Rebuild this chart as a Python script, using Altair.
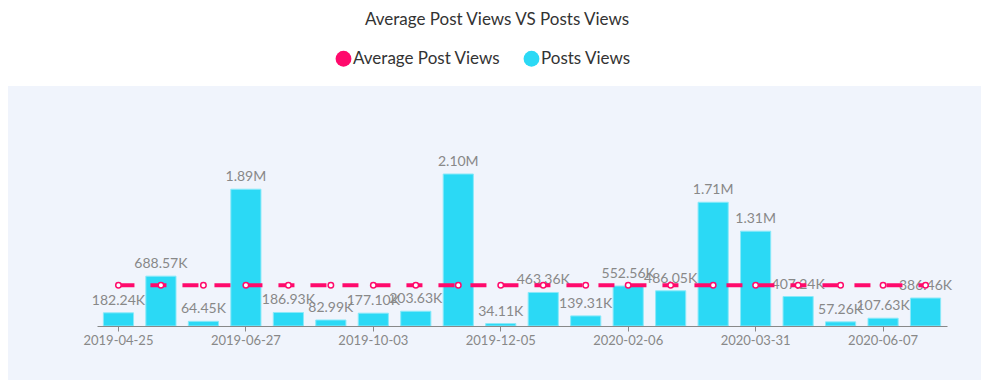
import altair as alt
import pandas as pd

dates = ["2019-04-25", "2019-05-16", "2019-06-06", "2019-06-27", "2019-07-25",
         "2019-08-29", "2019-10-03", "2019-10-24", "2019-11-14", "2019-12-05",
         "2019-12-26", "2020-01-16", "2020-02-06", "2020-02-27", "2020-03-12",
         "2020-03-31", "2020-04-23", "2020-05-15", "2020-06-07", "2020-06-28"]
post_views = [182240, 688570, 64450, 1890000, 186930, 82990, 177100, 203630, 2100000, 34110,
              463360, 139310, 552560, 486050, 1710000, 1310000, 407240, 57260, 107630, 386460]
avg_views = [561490] * 20
shown_ticks = ["2019-04-25", "2019-06-27", "2019-10-03", "2019-12-05",
               "2020-02-06", "2020-03-31", "2020-06-07"]
series = ["Average Post Views", "Posts Views"]
colors = ["#ff0a6c", "#2bd9f5"]

FONT = "Lato"

df = pd.DataFrame({"date": dates, "views": post_views, "avg": avg_views,
                   "series": ["Posts Views"] * len(dates)})

xscale = alt.Scale(domain=dates, paddingInner=0.29, paddingOuter=0.15)
yscale = alt.Scale(domain=[0, 3316000])

xaxis = alt.Axis(values=shown_ticks, labelAngle=0, labelColor="#888888",
                 labelFontSize=13, labelFont=FONT, domainColor="#888888",
                 tickColor="#888888", tickSize=5, labelPadding=3, grid=False,
                 zindex=2, title=None)


def X():
    return alt.X("date:N", scale=xscale, sort=dates, title=None, axis=xaxis)


bg = alt.Chart(pd.DataFrame({"a": [0]})).mark_rect(color="#f0f4fc").encode(
    x=alt.value(-92), x2=alt.value(900), y=alt.value(0), y2=alt.value(320))

bars = alt.Chart(df).mark_bar(stroke="#8ae9f9", strokeWidth=1).encode(
    x=X(),
    y=alt.Y("views:Q", scale=yscale, axis=None),
    color=alt.Color("series:N", scale=alt.Scale(domain=series, range=colors),
                    legend=alt.Legend(title=None, orient="none", legendX=238, legendY=-36,
                                      direction="horizontal", symbolType="circle",
                                      symbolSize=250, symbolStrokeWidth=0,
                                      labelFontSize=17, labelFont=FONT, labelColor="#333333",
                                      labelOffset=1, columnPadding=22)),
)

labels = alt.Chart(df).transform_calculate(
    lab="datum.views >= 1000000 ? format(datum.views/1000000, '.2f') + 'M' : format(datum.views/1000, '.2f') + 'K'"
).mark_text(baseline="bottom", dy=-5, fontSize=14, font=FONT, color="#888888").encode(
    x=X(),
    y=alt.Y("views:Q", scale=yscale, axis=None),
    text="lab:N",
)

line = alt.Chart(df).mark_line(color="#ff0a6c", strokeWidth=4, strokeDash=[16, 16]).encode(
    x=X(),
    y=alt.Y("avg:Q", scale=yscale, axis=None),
)

pts = alt.Chart(df).mark_point(shape="circle", filled=True, fill="white", stroke="#ff0a6c",
                               strokeWidth=1.5, size=30, opacity=1).encode(
    x=X(),
    y=alt.Y("avg:Q", scale=yscale, axis=None),
)

chart = alt.layer(bg, bars, labels, line, pts).properties(
    width=850, height=240,
    title=alt.TitleParams("Average Post Views VS Posts Views", font=FONT, fontSize=17,
                          fontWeight="normal", color="#333333", anchor="middle", dx=-25,
                          dy=-17),
    autosize=alt.AutoSizeParams(type="none"),
    padding={"left": 89, "top": 78, "right": 34, "bottom": 54},
).configure_view(stroke=None).configure(background="white")

chart.save("out.html", embed_options={"renderer": "svg", "actions": False})
